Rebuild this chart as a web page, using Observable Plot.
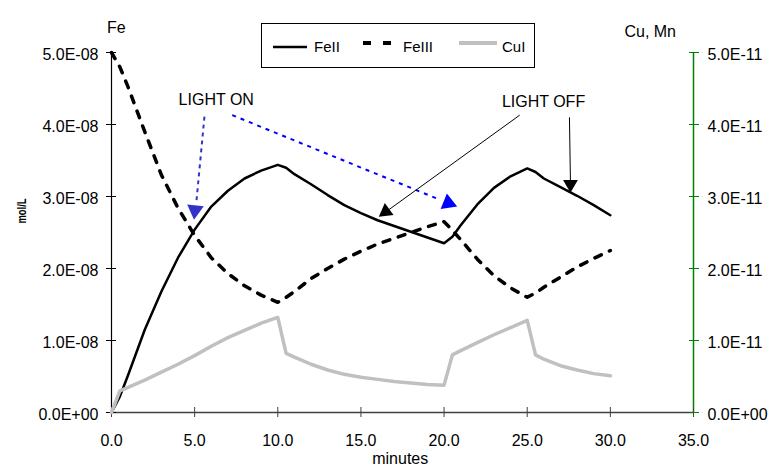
<!DOCTYPE html>
<html>
<head>
<meta charset="utf-8">
<script src="https://cdn.jsdelivr.net/npm/d3@7"></script>
<script src="https://cdn.jsdelivr.net/npm/@observablehq/plot@0.6"></script>
<style>
  body { margin: 0; background: #fff; }
  #chart { position: relative; width: 770px; height: 470px; font-family: "Liberation Sans", Arial, sans-serif; }
  #legend { position: absolute; left: 261px; top: 23px; }
</style>
</head>
<body>
<div id="chart"></div>
<script>
// ---- data ----
const minutes = [0, 0.5, 1, 2, 3, 4, 5, 6, 7, 8, 9, 10,
  10.5, 11, 12, 13, 14, 15, 16, 17, 18, 19, 20,
  20.5, 21, 22, 23, 24, 25,
  25.5, 26, 27, 28, 29, 30];
// Fe species, in units of 1E-08 mol/L
const feII = [0, 0.22, 0.52, 1.15, 1.68, 2.15, 2.54, 2.86, 3.08, 3.25, 3.36, 3.44,
  3.40, 3.31, 3.17, 3.02, 2.88, 2.77, 2.67, 2.59, 2.51, 2.43, 2.35,
  2.44, 2.60, 2.89, 3.12, 3.28, 3.39,
  3.34, 3.25, 3.13, 3.01, 2.88, 2.74];
const feIII = [5.00, 4.80, 4.52, 3.90, 3.30, 2.84, 2.46, 2.15, 1.93, 1.76, 1.63, 1.53,
  1.60, 1.68, 1.86, 2.00, 2.13, 2.24, 2.34, 2.42, 2.50, 2.58, 2.65,
  2.53, 2.40, 2.13, 1.90, 1.73, 1.60,
  1.66, 1.74, 1.88, 2.02, 2.14, 2.25];
// Cu species, in units of 1E-11 mol/L (right axis)
const cuI = [0, 0.30, 0.35, 0.45, 0.56, 0.67, 0.79, 0.92, 1.04, 1.14, 1.24, 1.32,
  0.82, 0.77, 0.67, 0.59, 0.53, 0.49, 0.46, 0.43, 0.41, 0.39, 0.38,
  0.80, 0.86, 0.97, 1.08, 1.18, 1.28,
  0.80, 0.74, 0.65, 0.59, 0.54, 0.51];
const feUnit = 1e-8;
const cuUnit = 1e-11;
const rightToLeft = 1000; // 5.0E-11 on right axis <-> 5.0E-08 on left axis

const seriesNames = ["FeII", "FeIII", "CuI"];
const xTicks = [0, 5, 10, 15, 20, 25, 30, 35];
const xTickLabels = ["0.0", "5.0", "10.0", "15.0", "20.0", "25.0", "30.0", "35.0"];
const yTicks = [0, 1e-8, 2e-8, 3e-8, 4e-8, 5e-8];
const leftTickLabels = ["0.0E+00", "1.0E-08", "2.0E-08", "3.0E-08", "4.0E-08", "5.0E-08"];
const rightTickLabels = ["0.0E+00", "1.0E-11", "2.0E-11", "3.0E-11", "4.0E-11", "5.0E-11"];
const xLabel = "minutes";
const yLabel = "mol/L";
const leftTitle = "Fe";
const rightTitle = "Cu, Mn";

// annotations (data coordinates)
const notes = [
  {label: "LIGHT ON", x: 6.30, y: 4.34e-8},
  {label: "LIGHT OFF", x: 25.98, y: 4.32e-8}
];
const lightOnLinks = [
  {x1: 5.59, y1: 4.11e-8, x2: 5.11, y2: 2.94e-8},
  {x1: 7.26, y1: 4.13e-8, x2: 19.7, y2: 2.96e-8}
];
const lightOnHeads = [
  {x: 5.02, y: 2.81e-8},
  {x: 20.25, y: 2.91e-8}
];
const lightOffLinks = [
  {x1: 24.55, y1: 4.13e-8, x2: 16.4, y2: 2.77e-8},
  {x1: 27.54, y1: 4.10e-8, x2: 27.6, y2: 3.20e-8}
];
const lightOffHeads = [
  {x: 16.49, y: 2.79e-8},
  {x: 27.6, y: 3.17e-8}
];

// ---- table ----
const rows = minutes.map((t, i) => ({
  t,
  fe2: feII[i] * feUnit,
  fe3: feIII[i] * feUnit,
  cu: cuI[i] * cuUnit
}));

const plot = Plot.plot({
  width: 770,
  height: 470,
  marginLeft: 111,
  marginRight: 77,
  marginTop: 52,
  marginBottom: 58,
  style: {fontFamily: "'Liberation Sans', Arial, sans-serif", fontSize: "16px", background: "#fff", color: "#000", overflow: "visible"},
  x: {domain: [0, 35]},
  y: {domain: [0, 5e-8]},
  marks: [
    // axes lines
    Plot.ruleY([0], {stroke: "#404040", strokeWidth: 1.5}),
    Plot.ruleX([0], {stroke: "#000", strokeWidth: 1.2}),
    Plot.ruleX([35], {stroke: "#008000", strokeWidth: 1.5}),
    // crossing ticks
    Plot.axisX({ticks: xTicks, tickSize: 10, dy: -5, tickFormat: () => "", label: null, stroke: "#404040"}),
    Plot.axisX({ticks: xTicks, tickSize: 0, tickPadding: 22, tickFormat: d => xTickLabels[xTicks.indexOf(d)], label: null}),
    Plot.axisY({ticks: yTicks, tickSize: 10, dx: 5, tickFormat: () => "", label: null, stroke: "#000"}),
    Plot.axisY({ticks: yTicks, tickSize: 0, tickPadding: 13, dy: 2, tickFormat: d => leftTickLabels[yTicks.indexOf(d)], label: null}),
    Plot.axisY({ticks: yTicks, anchor: "right", tickSize: 10, dx: -5, tickFormat: () => "", label: null, stroke: "#008000"}),
    Plot.axisY({ticks: yTicks, anchor: "right", tickSize: 0, tickPadding: 14, dy: 2, tickFormat: d => rightTickLabels[yTicks.indexOf(d)], label: null}),
    // axis titles
    Plot.text([yLabel], {frameAnchor: "left", dx: -90, dy: -9, rotate: -90, fontWeight: "bold", fontSize: 13.5}),
    Plot.text([leftTitle], {frameAnchor: "top-left", dx: -4.5, dy: -30.5}),
    Plot.text([rightTitle], {frameAnchor: "top-right", dx: -17.5, dy: -27}),
    Plot.text([xLabel], {frameAnchor: "bottom-left", dx: 260.7, dy: 51.5}),
    // series
    Plot.line(rows, {x: "t", y: "fe2", stroke: "#000", strokeWidth: 2.5}),
    Plot.line(rows, {x: "t", y: "fe3", stroke: "#000", strokeWidth: 3.5, strokeDasharray: "7,9"}),
    Plot.line(rows, {x: "t", y: d => d.cu * rightToLeft, stroke: "#c0c0c0", strokeWidth: 3.5}),
    // annotations
    Plot.text(notes, {x: "x", y: "y", text: "label"}),
    Plot.link([lightOnLinks[0]], {x1: "x1", y1: "y1", x2: "x2", y2: "y2", stroke: "#3333cc", strokeWidth: 2, strokeDasharray: "4,4"}),
    Plot.link([lightOnLinks[1]], {x1: "x1", y1: "y1", x2: "x2", y2: "y2", stroke: "#0000ff", strokeWidth: 2, strokeDasharray: "4,5"}),
    Plot.dot([lightOnHeads[0]], {x: "x", y: "y", symbol: "triangle", r: 6.2, fill: "#3333cc", stroke: "none", rotate: 186}),
    Plot.dot([lightOnHeads[1]], {x: "x", y: "y", symbol: "triangle", r: 6.2, fill: "#0000ff", stroke: "none", rotate: 112}),
    Plot.link(lightOffLinks, {x1: "x1", y1: "y1", x2: "x2", y2: "y2", stroke: "#000", strokeWidth: 1}),
    Plot.dot([lightOffHeads[0]], {x: "x", y: "y", symbol: "triangle", r: 5.5, fill: "#000", stroke: "none", rotate: 234}),
    Plot.dot([lightOffHeads[1]], {x: "x", y: "y", symbol: "triangle", r: 5.5, fill: "#000", stroke: "none", rotate: 180})
  ]
});

// the reference's vertical unit label is condensed: fit it to its drawn length
plot.querySelectorAll("text").forEach(t => {
  if (t.textContent === yLabel) {
    t.setAttribute("textLength", "25");
    t.setAttribute("lengthAdjust", "spacingAndGlyphs");
  }
});

const chart = document.getElementById("chart");
chart.appendChild(plot);

// legend (overlaid box, as in the original)
const ns = "http://www.w3.org/2000/svg";
const leg = document.createElementNS(ns, "svg");
leg.setAttribute("id", "legend");
leg.setAttribute("width", "275");
leg.setAttribute("height", "46");
leg.style.fontFamily = "'Liberation Sans', Arial, sans-serif";
leg.style.fontSize = "15px";
const swatches = [
  {lx1: 12, lx2: 46, ly: 24, stroke: "#000", w: 2.5, dash: null, tx: 53},
  {lx1: 102, lx2: 131, ly: 20, stroke: "#000", w: 4, dash: "8,12", tx: 142},
  {lx1: 198, lx2: 236, ly: 20, stroke: "#c0c0c0", w: 4, dash: null, tx: 241}
];
let html = '<rect x="0.5" y="0.5" width="273" height="44" fill="#fff" stroke="#000" stroke-width="1"/>';
swatches.forEach((s, i) => {
  html += `<line x1="${s.lx1}" x2="${s.lx2}" y1="${s.ly}" y2="${s.ly}" stroke="${s.stroke}" stroke-width="${s.w}"${s.dash ? ` stroke-dasharray="${s.dash}"` : ""}/>`;
  html += `<text x="${s.tx}" y="29" fill="#000">${seriesNames[i]}</text>`;
});
leg.innerHTML = html;
chart.appendChild(leg);
</script>
</body>
</html>
